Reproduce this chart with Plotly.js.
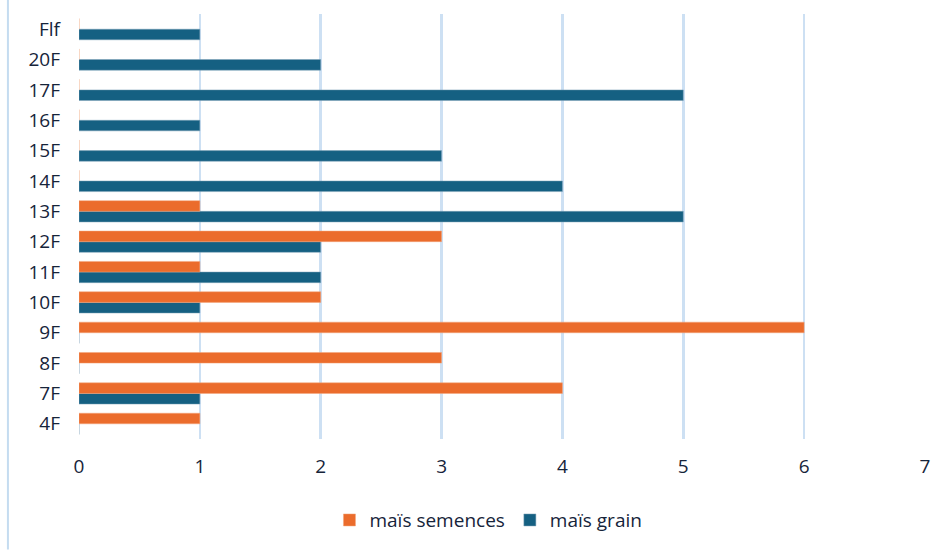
<!DOCTYPE html>
<html>
<head>
<meta charset="utf-8">
<script src="https://cdn.plot.ly/plotly-3.0.1.min.js"></script>
<style>html,body{margin:0;padding:0;background:#fff;}#chart{width:949px;height:550px;}</style>
</head>
<body>
<div id="chart"></div>
<script>
const categories = ["4F","7F","8F","9F","10F","11F","12F","13F","14F","15F","16F","17F","20F","Flf"];
const semences = [1,4,3,6,2,1,3,1,0,0,0,0,0,0];
const grain    = [0,1,0,0,1,2,2,5,4,3,1,5,2,1];
const xTicks = [0,1,2,3,4,5,6,7];

const font = {family: "Open Sans, sans-serif", color: "#16243a"};

const traces = [
  {type:"bar", orientation:"h", name:"maïs grain", y:categories, x:grain,
   marker:{color:"#156082", line:{color:"#7fa3b8", width:0.5}}, legendrank:2, hoverinfo:"x+y"},
  {type:"bar", orientation:"h", name:"maïs semences", y:categories, x:semences,
   marker:{color:"#EB6C2C", line:{color:"#f2a47a", width:0.5}}, legendrank:1, hoverinfo:"x+y"}
];

const layout = {
  width:949, height:550,
  margin:{l:79, r:24, t:14, b:110},
  paper_bgcolor:"#fff", plot_bgcolor:"#fff",
  barmode:"group", bargap:0.3, bargroupgap:0,
  font:Object.assign({size:19}, font),
  xaxis:{range:[0,7], tickvals:xTicks, ticktext:xTicks.map(String),
    showgrid:true, gridcolor:"#cde0f3", gridwidth:2.5, zeroline:false, showline:false,
    ticks:"", ticklabelstandoff:14, tickfont:Object.assign({size:19}, font), fixedrange:true},
  yaxis:{type:"category", categoryorder:"array", categoryarray:categories,
    showgrid:false, zeroline:false, showline:false, ticks:"", ticklabelstandoff:18,
    tickfont:Object.assign({size:19}, font), fixedrange:true},
  showlegend:true,
  legend:{orientation:"h", x:0.484, xanchor:"center", y:-0.188, yanchor:"middle",
    font:Object.assign({size:19}, font), itemwidth:30, tracegroupgap:0},
  shapes:[{type:"line", xref:"paper", yref:"paper", x0:-0.084, x1:-0.084, y0:-0.26, y1:1.04,
    line:{color:"#c5dcf0", width:2}}]
};

Plotly.newPlot("chart", traces, layout, {displayModeBar:false, staticPlot:true});
</script>
</body>
</html>
